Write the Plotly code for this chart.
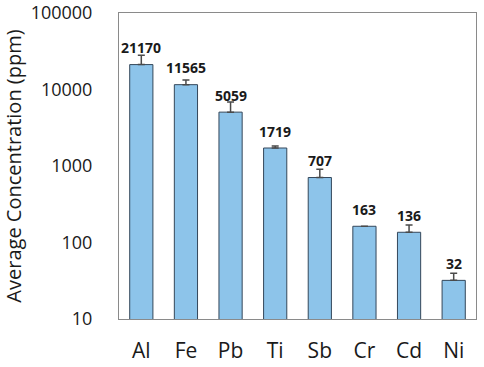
import plotly.graph_objects as go
import math

elements = ["Al", "Fe", "Pb", "Ti", "Sb", "Cr", "Cd", "Ni"]
concentration = [21170, 11565, 5059, 1719, 707, 163, 136, 32]
error_plus = [6800, 1750, 1800, 100, 200, float("nan"), 33, 7.5]
value_labels = ["21170", "11565", "5059", "1719", "707", "163", "136", "32"]
y_tick_vals = [10, 100, 1000, 10000, 100000]
y_tick_text = ["10", "100", "1000", "10000", "100000"]

fig = go.Figure()
fig.add_trace(go.Bar(
    x=elements, y=concentration,
    marker=dict(color="#8DC4EA", line=dict(color="#34475A", width=1)),
    width=0.52,
    error_y=dict(type="data", symmetric=False, array=error_plus,
                 arrayminus=[0]*len(error_plus),
                 color="#4a4a4a", thickness=1.5, width=3.5),
))

for el, v, lab in zip(elements, concentration, value_labels):
    fig.add_annotation(x=el, y=math.log10(v), text="<b>" + lab + "</b>",
                       showarrow=False, yanchor="middle", yshift=17,
                       font=dict(family="Open Sans", size=14, color="#1a1a1a"))

fig.update_layout(
    width=484, height=367,
    margin=dict(l=119, r=8, t=13, b=48),
    paper_bgcolor="white", plot_bgcolor="white",
    showlegend=False,
    font=dict(family="Open Sans", color="#1a1a1a"),
    bargap=0.48,
)
fig.update_xaxes(
    showline=True, linecolor="#8a8a8a", linewidth=1, mirror=True,
    ticks="", tickfont=dict(size=21, family="Open Sans", color="#1a1a1a"),
    ticklabelstandoff=13, automargin=False, ticklabeloverflow="allow",
)
fig.update_yaxes(
    type="log", range=[1, 5],
    tickvals=y_tick_vals, ticktext=y_tick_text,
    showline=True, linecolor="#8a8a8a", linewidth=1, mirror=True,
    showgrid=False, ticks="", zeroline=False,
    tickfont=dict(size=18, family="Open Sans", color="#1a1a1a"),
    ticklabelstandoff=22, automargin=False, ticklabeloverflow="allow",
    title=dict(text="Average Concentration (ppm)", standoff=22,
               font=dict(size=20, family="Open Sans", color="#1a1a1a")),
)

fig.write_html("out.html", config={"displayModeBar": False},
               post_script="document.body.style.margin='0';")
